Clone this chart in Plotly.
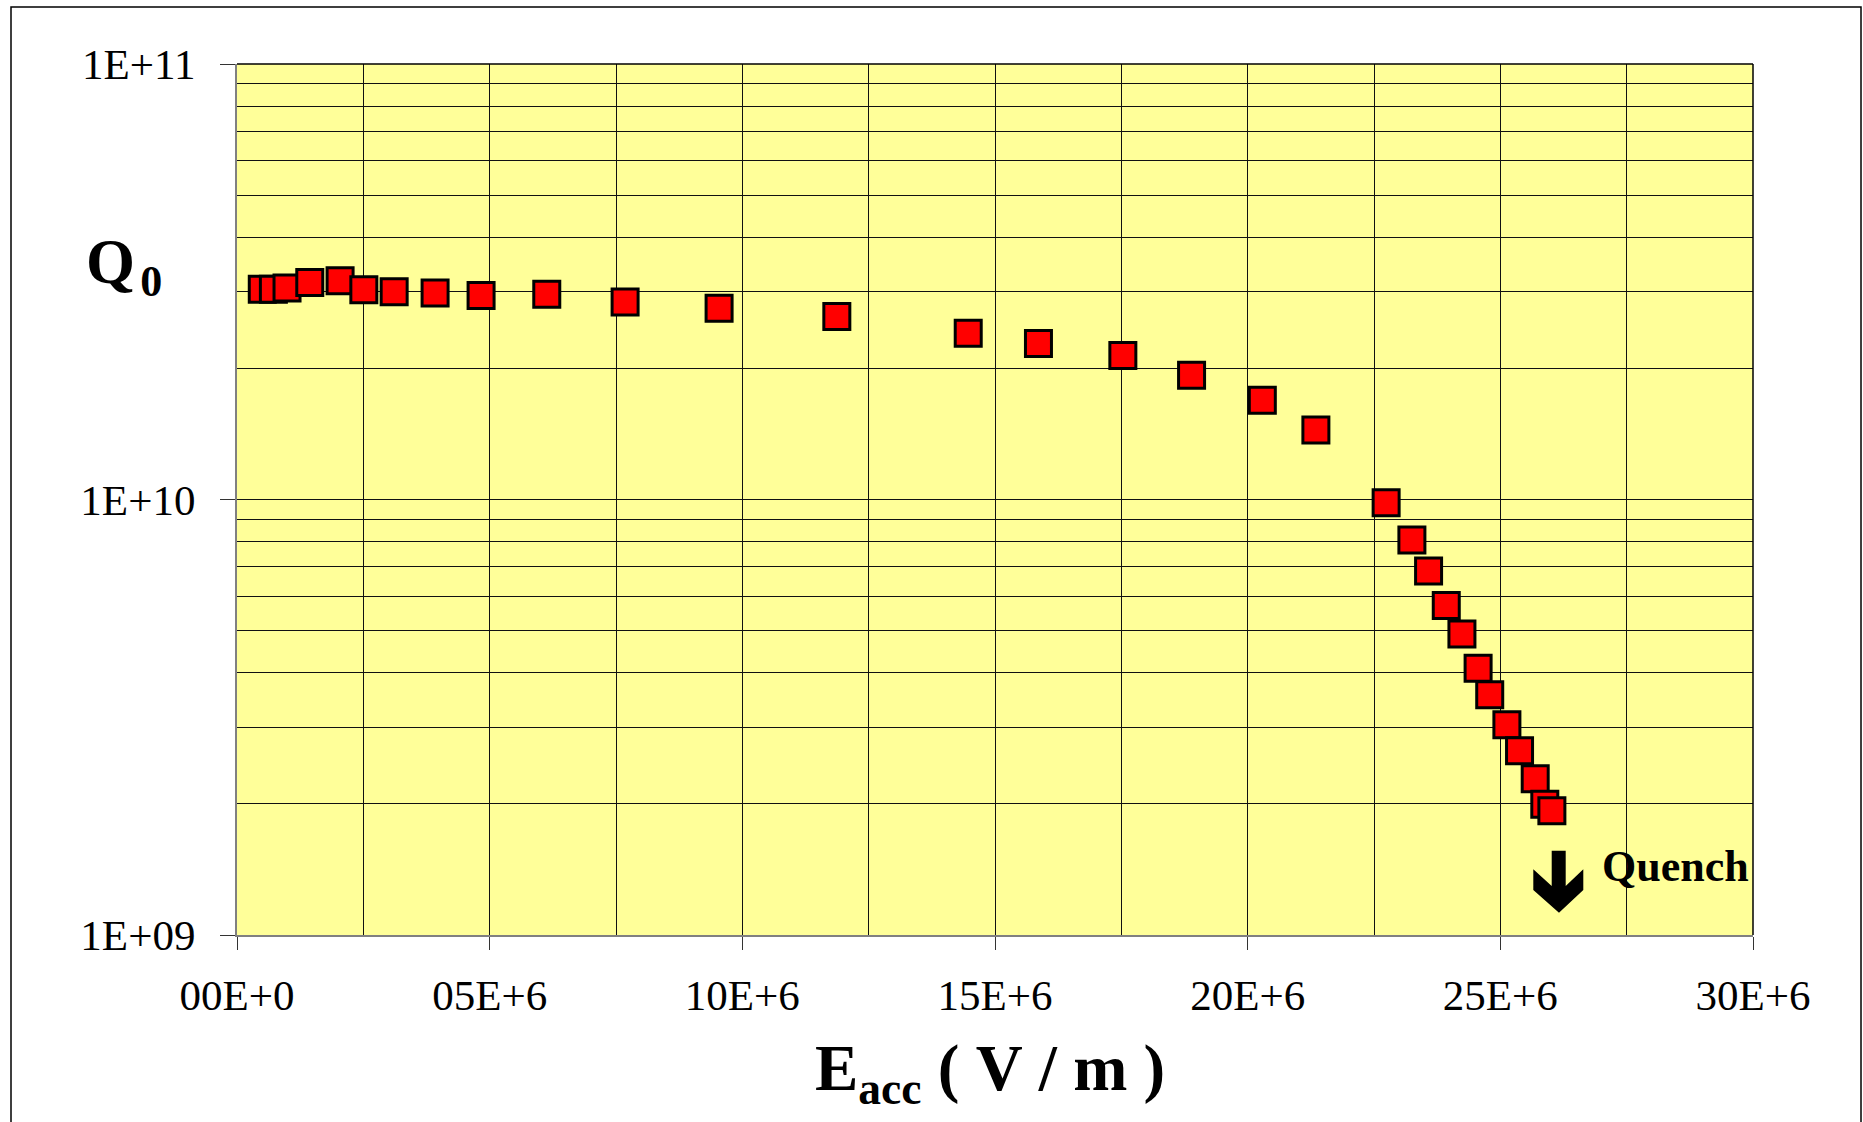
import plotly.graph_objects as go

# ---- data ----
e_acc = [0.50e6, 0.72e6, 0.99e6, 1.44e6, 2.04e6, 2.51e6, 3.11e6, 3.92e6, 4.83e6, 6.13e6,
         7.68e6, 9.54e6, 11.87e6, 14.47e6, 15.86e6, 17.53e6, 18.89e6, 20.29e6, 21.35e6,
         22.74e6, 23.25e6, 23.58e6, 23.93e6, 24.24e6, 24.56e6, 24.79e6, 25.13e6, 25.38e6,
         25.69e6, 25.88e6, 26.02e6]
q0 = [3.04e10, 3.04e10, 3.06e10, 3.15e10, 3.18e10, 3.03e10, 3.00e10, 2.98e10, 2.94e10, 2.96e10,
      2.84e10, 2.75e10, 2.63e10, 2.41e10, 2.28e10, 2.14e10, 1.93e10, 1.69e10, 1.444e10,
      9.83e9, 8.07e9, 6.85e9, 5.71e9, 4.91e9, 4.10e9, 3.56e9, 3.04e9, 2.65e9,
      2.285e9, 1.995e9, 1.93e9]

x_tickvals = [0, 5e6, 10e6, 15e6, 20e6, 25e6, 30e6]
x_ticktext = ["00E+0", "05E+6", "10E+6", "15E+6", "20E+6", "25E+6", "30E+6"]
y_tickvals = [1e9, 1e10, 1e11]
y_ticktext = ["1E+09", "1E+10", "1E+11"]

# ---- layout geometry (pixels) ----
W, H = 1863, 1122
L, T, R, B = 237, 64, 1753, 935
PW, PH = R - L, B - T


def px(x):
    return (x - L) / PW


def py(y):
    return (B - y) / PH


SERIF = "Liberation Serif"

fig = go.Figure()
fig.add_trace(go.Scatter(
    x=e_acc, y=q0, mode="markers",
    marker=dict(symbol="square", size=26, color="#FF0000",
                line=dict(color="#000000", width=3)),
    showlegend=False, cliponaxis=False,
))

minor_y = [m * 10 ** e for e in (9, 10) for m in range(2, 10)]

fig.update_layout(
    width=W, height=H,
    margin=dict(l=L, r=W - R, t=T, b=H - B, pad=0),
    paper_bgcolor="white", plot_bgcolor="#FFFF99",
    font=dict(family=SERIF, color="black"),
    xaxis=dict(
        range=[0, 30e6], tickmode="array", tickvals=x_tickvals, ticktext=x_ticktext,
        ticks="outside", ticklen=13, tickcolor="#333", tickwidth=1,
        showgrid=True, gridcolor="#111", gridwidth=1,
        minor=dict(dtick=2.5e6, tick0=0, showgrid=True, gridcolor="#111", gridwidth=1, ticks=""),
        showline=True, linecolor="#808080", linewidth=2, zeroline=False,
        tickfont=dict(family=SERIF, size=43, color="black"),
        ticklabelstandoff=8, automargin=False,
    ),
    yaxis=dict(
        type="log", range=[9, 11], tickmode="array", tickvals=y_tickvals, ticktext=y_ticktext,
        ticks="outside", ticklen=15, tickcolor="#333", tickwidth=1,
        showgrid=True, gridcolor="#111", gridwidth=1,
        minor=dict(tickvals=minor_y, showgrid=True, gridcolor="#111", gridwidth=1, ticks=""),
        showline=True, linecolor="#808080", linewidth=2, zeroline=False,
        tickfont=dict(family=SERIF, size=43, color="black"),
        ticklabelstandoff=16, automargin=False,
    ),
)

# plot frame (top / right in black) and outer border
fig.add_shape(type="line", xref="paper", yref="paper", x0=0, x1=1, y0=1, y1=1,
              line=dict(color="black", width=1.5))
fig.add_shape(type="line", xref="paper", yref="paper", x0=1, x1=1, y0=0, y1=1,
              line=dict(color="black", width=1.5))
fig.add_shape(type="rect", xref="paper", yref="paper",
              x0=px(11), x1=px(1861), y0=py(1135), y1=py(7),
              line=dict(color="black", width=1.5), fillcolor="rgba(0,0,0,0)")

# quench arrow
arrow_pts = [(1551.7, 850.7), (1565.7, 850.7), (1565.7, 886), (1583.3, 869.3), (1583.3, 890),
             (1559, 912.7), (1533.3, 890), (1533.3, 869.3), (1551.7, 886)]
path = "M " + " L ".join(f"{px(a):.5f},{py(b):.5f}" for a, b in arrow_pts) + " Z"
fig.add_shape(type="path", xref="paper", yref="paper", path=path,
              fillcolor="black", line=dict(color="black", width=0))

fig.add_annotation(xref="paper", yref="paper", x=px(1600), y=py(866),
                   xanchor="left", yanchor="middle", showarrow=False,
                   text="<b>Quench</b>", font=dict(family=SERIF, size=44, color="black"))

# axis titles
fig.add_annotation(xref="paper", yref="paper", x=px(990), y=py(1073),
                   xanchor="center", yanchor="middle", showarrow=False,
                   text="<b>E<sub>acc</sub>\u00a0(\u00a0V\u00a0/\u00a0m\u00a0)</b>",
                   font=dict(family=SERIF, size=65, color="black"))
fig.add_annotation(xref="paper", yref="paper", x=px(124), y=py(266),
                   xanchor="center", yanchor="middle", showarrow=False,
                   text="<b>Q\u200a<sub>0</sub></b>",
                   font=dict(family=SERIF, size=63, color="black"))

fig.write_html("out.html")
